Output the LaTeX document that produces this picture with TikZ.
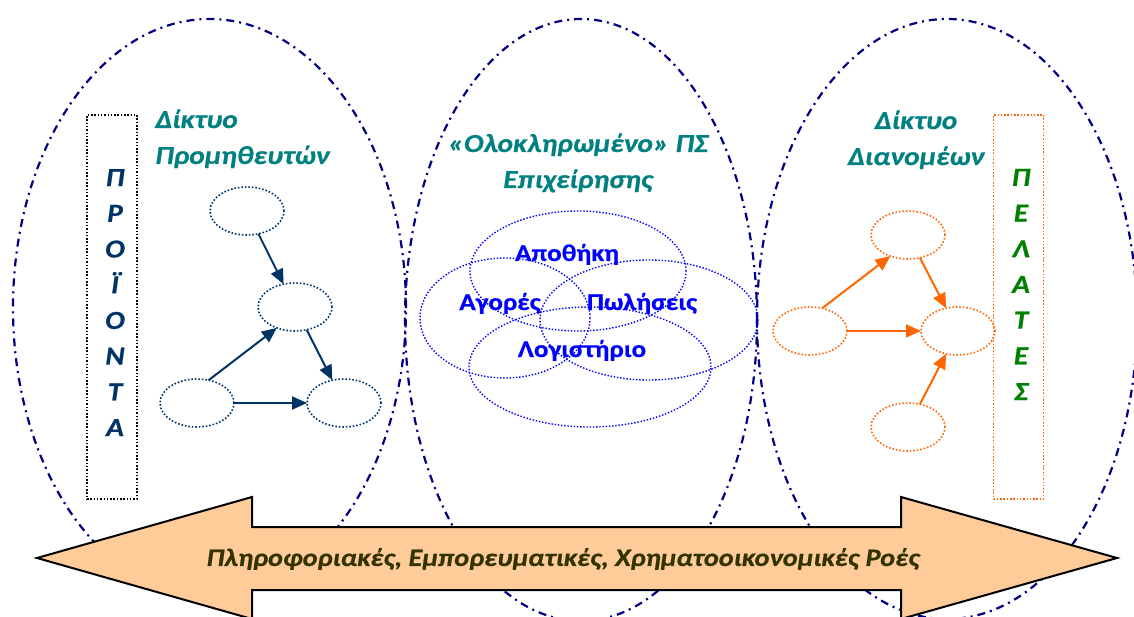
\documentclass[tikz,border=0pt]{standalone}
\usepackage{fontspec}
\setmainfont{Carlito}[FakeStretch=1.13,BoldFeatures={FakeBold=0.6},BoldItalicFeatures={FakeBold=0.6}]
\usetikzlibrary{arrows.meta, positioning, shapes.geometric}

\definecolor{ringblue}{RGB}{0,0,128}
\definecolor{supblue}{RGB}{0,51,102}
\definecolor{titleteal}{RGB}{0,128,128}
\definecolor{distorange}{RGB}{255,102,0}
\definecolor{custgreen}{RGB}{0,128,0}
\definecolor{vennblue}{RGB}{0,0,255}
\definecolor{flowfill}{RGB}{255,204,153}
\definecolor{flowtext}{RGB}{51,51,0}

\begin{document}
\begin{tikzpicture}[x=1pt,y=-1pt,on grid,>={Triangle[length=15pt,width=13pt]},
      ring/.style={draw=ringblue,line width=2.2pt,dash pattern=on 8pt off 5pt on 2pt off 5pt},
      netnode/.style={ellipse,draw,line width=1.6pt,dash pattern=on 1.6pt off 1.9pt,
        minimum width=74pt,minimum height=48pt,inner sep=0pt,outer sep=0pt},
      supnode/.style={netnode,draw=supblue},
      distnode/.style={netnode,draw=distorange},
      vennset/.style={ellipse,draw=vennblue,line width=1.4pt,dash pattern=on 1.4pt off 1.8pt,
        minimum height=120pt,inner sep=0pt,outer sep=0pt},
      vennlabel/.style={text=vennblue,font=\fontsize{24}{28}\selectfont\bfseries,inner sep=0pt,anchor=base},
      nettitle/.style={text=titleteal,font=\fontsize{26}{36}\selectfont\bfseries\itshape,inner sep=0pt},
      sidebox/.style={draw,line width=1.5pt,dash pattern=on 1.5pt off 1.8pt,
        minimum width=50pt,minimum height=384pt,inner sep=0pt},
      sideletters/.style={font=\fontsize{26}{35.7}\selectfont\bfseries\itshape,align=center,inner sep=0pt,anchor=base},
      link/.style={->,line width=2pt}]
  \useasboundingbox (0,0) rectangle (1134,617);

  % the three networks
  \draw[ring] (209.5,308) ellipse [x radius=196.5pt, y radius=289pt];
  \draw[ring] (581,320) ellipse [x radius=176pt, y radius=301pt];
  \draw[ring] (947,319) ellipse [x radius=190pt, y radius=300pt];

  % suppliers
  \node[nettitle, align=left, anchor=base west] (suptitle) at (155,164) {Δίκτυο\\Προμηθευτών};
  \node[sidebox] (prodbox) at (112,307) {};
  \node[sideletters, text=supblue] (prodtxt) at (115,436) {Π\\Ρ\\Ο\\Ϊ\\Ο\\Ν\\Τ\\Α};
  \node[supnode] (sup1) at (247,211) {};
  \node[supnode, below right=96pt and 48pt of sup1] (sup2) {};
  \node[supnode, below left=96pt and 98pt of sup2] (sup3) {};
  \node[supnode, right=147pt of sup3] (sup4) {};
  \draw[link,supblue] (sup1) -- (sup2);
  \draw[link,supblue] (sup3.63) -- (sup2.229);
  \draw[link,supblue] (sup2) -- (sup4);
  \draw[link,supblue] (sup3) -- (sup4);

  % enterprise system
  \node[nettitle, align=center, anchor=base] (systitle) at (578,188) {«Ολοκληρωμένο» ΠΣ\\Επιχείρησης};
  \node[vennset, minimum width=216pt] (store) at (578,271) {};
  \node[vennset, minimum width=170pt] (market) at (505,318) {};
  \node[vennset, minimum width=218pt] (sales) at (649,320) {};
  \node[vennset, minimum width=242pt] (account) at (590,367) {};
  \node[vennlabel] (storetxt) at (567,261) {Αποθήκη};
  \node[vennlabel] (markettxt) at (500,310) {Αγορές};
  \node[vennlabel] (salestxt) at (642,310) {Πωλήσεις};
  \node[vennlabel] (accounttxt) at (582,357) {Λογιστήριο};

  % distributors
  \node[nettitle, align=center, anchor=base] (disttitle) at (916,165) {Δίκτυο\\Διανομέων};
  \node[sidebox, draw=distorange] (custbox) at (1018.5,307) {};
  \node[sideletters, text=custgreen] (custtxt) at (1021,400) {Π\\Ε\\Λ\\Α\\Τ\\Ε\\Σ};
  \node[distnode] (dist1) at (908,235) {};
  \node[distnode, below left=96pt and 98pt of dist1] (dist2) {};
  \node[distnode, right=148pt of dist2] (dist3) {};
  \node[distnode, below=192pt of dist1] (dist4) {};
  \draw[link,distorange] (dist2.62) -- (dist1.230);
  \draw[link,distorange] (dist1) -- (dist3);
  \draw[link,distorange] (dist2) -- (dist3);
  \draw[link,distorange] (dist4) -- (dist3);

  % flows
  \filldraw[fill=flowfill, draw=black, line width=2pt] (37,558) -- (252,497) -- (252,527)
    -- (901,527) -- (901,497) -- (1117,558) -- (901,619) -- (901,590) -- (252,590)
    -- (252,619) -- cycle;
  \node[text=flowtext, font=\fontsize{25}{30}\selectfont\bfseries\itshape, inner sep=0pt] (flowtxt)
    at (563,559) {Πληροφοριακές, Εμπορευματικές, Χρηματοοικονομικές Ροές};
\end{tikzpicture}
\end{document}
